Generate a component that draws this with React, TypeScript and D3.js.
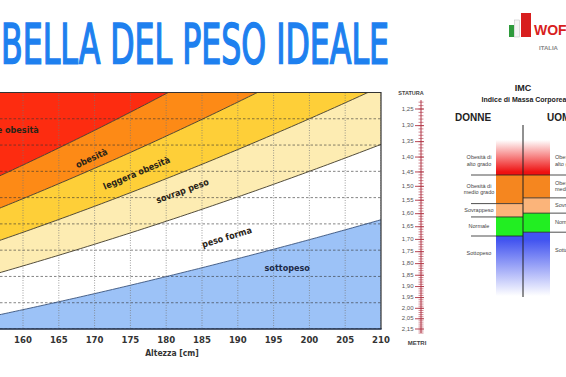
import React, { useLayoutEffect, useRef, useState } from 'react';
import * as d3 from 'd3';

// altezza (cm) e peso (kg) della griglia
const heightTicks = [160, 165, 170, 175, 180, 185, 190, 195, 200, 205, 210];
const weightGrid = [40, 50, 60, 70, 80, 90, 100, 110, 120, 130];

// fasce di IMC del grafico principale
const bandNames = ['sottopeso', 'peso forma', 'sovrap peso', 'leggera obesità', 'obesità', 'grave obesità'];
const bandLimits = [0, 18.5, 25, 30, 35, 40, 80];
// punto (altezza, peso) dove sta l'etichetta di ogni fascia
const labelHeights = [196.9, 188.5, 182.3, 175.9, 169.6, 162.2];
const labelWeights = [62.9, 74.7, 92.3, 99.1, 104.8, 115.5];

// righello della statura
const statureValues = [1.25, 1.3, 1.35, 1.4, 1.45, 1.5, 1.55, 1.6, 1.65, 1.7, 1.75, 1.8, 1.85, 1.9, 1.95, 2.0, 2.05, 2.1];
const statureLabels = ['1,25', '1,30', '1,35', '1,40', '1,45', '1,50', '1,55', '1,60', '1,65', '1,70', '1,75', '1,80', '1,85', '1,90', '1,95', '2,00', '2,05', '2,15'];

// IMC donne / uomini: sottopeso|normale|sovrappeso|obesità medio|obesità alto
const womenLimits = [19, 24, 27.5, 35];
const menLimits = [20, 25, 29, 35];

const bandColors = ['#9cc2f7', '#ffffff', '#fdecb2', '#fecf38', '#fd8a16', '#fd2c10'];
const condensed = "'DejaVu Sans Condensed', 'DejaVu Sans', sans-serif";

export default function App() {
  const titleRef = useRef<SVGTextElement>(null);
  const [titleScale, setTitleScale] = useState(0.56);

  useLayoutEffect(() => {
    if (titleRef.current) {
      const w = titleRef.current.getComputedTextLength();
      if (w > 0) setTitleScale(388 / w);
    }
  }, []);

  const x = d3.scaleLinear().domain([160, 210]).range([23, 381]);
  const y = d3.scaleLinear().domain([40, 130]).range([329, 92.5]);
  const kx = (x(210) - x(160)) / 50;
  const ky = (y(40) - y(130)) / 90;
  const hs = d3.range(150, 212.01, 0.5);
  const weightAt = (bmi: number, h: number) => bmi * (h / 100) ** 2;

  const bandArea = (lo: number, hi: number) =>
    d3.area<number>()
      .x(h => x(h))
      .y0(h => y(weightAt(lo, h)))
      .y1(h => y(weightAt(hi, h)))(hs) || '';
  const bmiLine = (bmi: number) =>
    d3.line<number>().x(h => x(h)).y(h => y(weightAt(bmi, h)))(hs) || '';

  const stature = d3.scaleLog().domain([1.25, 2.1]).range([109, 329]);
  const minor = d3.range(1.23, 2.125, 0.01);

  const imc = d3.scaleLinear().domain([19, 35]).range([236, 175]);

  const column = (limits: number[], x0: number, w: number, key: string) => (
    <g key={key}>
      <rect x={x0} y={138} width={w} height={imc(35) - 138} fill="url(#redGrad)" />
      <rect x={x0} y={imc(35)} width={w} height={imc(limits[2]) - imc(35)} fill="#f5861f" />
      <rect x={x0} y={imc(limits[2])} width={w} height={imc(limits[1]) - imc(limits[2])} fill="#fbb47a" />
      <rect x={x0} y={imc(limits[1])} width={w} height={imc(limits[0]) - imc(limits[1])} fill="#22ee22" />
      <rect x={x0} y={imc(limits[0])} width={w} height={297 - imc(limits[0])} fill="url(#blueGrad)" />
    </g>
  );

  const panelLabels = (limits: number[], lx: number, anchor: string, key: string) => {
    const top = imc(35);
    const rows: [string[], number][] = [
      [['Obesità di', 'alto grado'], top - 17],
      [['Obesità di', 'medio grado'], (top + imc(limits[2])) / 2 - 3],
      [['Sovrappeso'], (imc(limits[2]) + imc(limits[1])) / 2],
      [['Normale'], (imc(limits[1]) + imc(limits[0])) / 2],
      [['Sottopeso'], imc(limits[0]) + 18],
    ];
    return (
      <g key={key} fontSize={5.5} fill="#444" textAnchor={anchor}>
        {rows.map(([lines, cy], i) => lines.map((t, j) => (
          <text key={i + '-' + j} x={lx} y={cy + j * 6.5} dominantBaseline="middle">{t}</text>
        )))}
      </g>
    );
  };

  return (
    <svg width={566} height={377} style={{ position: 'absolute', left: 0, top: 0, background: '#fff' }}
      fontFamily="'DejaVu Sans', sans-serif">
      <defs>
        <clipPath id="plotClip"><rect x={0} y={92.5} width={381} height={236.5} /></clipPath>
        <linearGradient id="redGrad" gradientUnits="userSpaceOnUse" x1={0} x2={0} y1={140} y2={172}>
          <stop offset="0" stopColor="#ffffff" />
          <stop offset="1" stopColor="#ee1111" />
        </linearGradient>
        <linearGradient id="blueGrad" gradientUnits="userSpaceOnUse" x1={0} x2={0} y1={240} y2={296}>
          <stop offset="0" stopColor="#4254f0" />
          <stop offset="1" stopColor="#ffffff" />
        </linearGradient>
      </defs>

      {/* titolo */}
      <text ref={titleRef} x={0} y={0} fontSize={56} fill="#1e80ef" stroke="#1e80ef" strokeWidth={1.6}
        transform={`translate(1,63) scale(${titleScale},1)`} fontFamily={condensed} fontStretch="condensed">
        BELLA DEL PESO IDEALE
      </text>

      {/* grafico principale */}
      <g clipPath="url(#plotClip)">
        {bandNames.map((n, i) => (
          <path key={n} d={bandArea(bandLimits[i], bandLimits[i + 1])} fill={bandColors[i]} />
        ))}
        {weightGrid.map(w => (
          <line key={'h' + w} x1={0} x2={381} y1={y(w)} y2={y(w)} stroke="#333" strokeOpacity={0.75}
            strokeWidth={0.8} strokeDasharray="2.5,2" />
        ))}
        {[155, ...heightTicks].map(h => (
          <line key={'v' + h} x1={x(h)} x2={x(h)} y1={92.5} y2={329} stroke="#777" strokeWidth={0.7}
            strokeDasharray="1,1.5" />
        ))}
        {bandLimits.slice(1, 6).map((b, i) => (
          <path key={'l' + b} d={bmiLine(b)} fill="none" stroke={i === 0 ? '#34507c' : '#403a2a'} strokeWidth={0.9} />
        ))}
        {bandNames.map((n, i) => {
          const cx = x(labelHeights[i]);
          const cy = y(labelWeights[i]);
          const mid = (bandLimits[i] + bandLimits[i + 1]) / 2;
          const rotated = i > 0 && i < 5;
          const ang = rotated
            ? -Math.atan((2 * mid * labelHeights[i] / 10000) * ky / kx) * 180 / Math.PI
            : 0;
          return (
            <text key={'t' + n} x={cx} y={cy} fontSize={9} fontWeight="bold" fontFamily={condensed}
              fill={i === 0 ? '#1c2a48' : '#2a2418'} textAnchor={i === 5 ? 'end' : 'middle'}
              dominantBaseline="middle" transform={`rotate(${ang},${cx},${cy})`}>{n}</text>
          );
        })}
      </g>
      <line x1={0} x2={381} y1={92.5} y2={92.5} stroke="#333" strokeWidth={1} />
      <line x1={381} x2={381} y1={92} y2={329} stroke="#333" strokeWidth={1.2} />
      <line x1={0} x2={381.6} y1={329} y2={329} stroke="#1c2a44" strokeWidth={1.6} />
      {heightTicks.map(h => (
        <text key={'x' + h} x={x(h)} y={343} fontSize={9.5} fontWeight="bold" fill="#333" textAnchor="middle"
          fontFamily={condensed}>{h}</text>
      ))}
      <text x={172} y={356} fontSize={8.5} fontWeight="bold" fill="#333" textAnchor="middle"
        fontFamily={condensed}>Altezza [cm]</text>

      {/* righello statura */}
      <g fontFamily="'Liberation Sans', Arial, sans-serif">
        <text x={411} y={95} fontSize={5.5} fontWeight="bold" fill="#444" textAnchor="middle">STATURA</text>
        <line x1={421} x2={421} y1={stature(1.224)} y2={stature(2.12)} stroke="#b03444" strokeWidth={1} />
        {minor.map(v => (
          <line key={'m' + v.toFixed(2)} x1={418.5} x2={423.5} y1={stature(v)} y2={stature(v)} stroke="#b03444" strokeWidth={0.6} />
        ))}
        {statureValues.map((v, i) => (
          <g key={'s' + i}>
            <line x1={415} x2={424} y1={stature(v)} y2={stature(v)} stroke="#b03444" strokeWidth={0.9} />
            <text x={413.5} y={stature(v)} fontSize={6} fill="#555" textAnchor="end" dominantBaseline="middle">{statureLabels[i]}</text>
          </g>
        ))}
        <text x={417} y={345} fontSize={6} fontWeight="bold" fill="#444" textAnchor="middle">METRI</text>
      </g>

      {/* pannello IMC */}
      <g fontFamily="'Liberation Sans', Arial, sans-serif">
        <text x={523} y={91} fontSize={9} fontWeight="bold" fill="#222" textAnchor="middle">IMC</text>
        <text x={524} y={101.5} fontSize={7} fontWeight="bold" fill="#222" textAnchor="middle">Indice di Massa Corporea</text>
        <text x={473} y={121} fontSize={10} fontWeight="bold" fill="#222" textAnchor="middle">DONNE</text>
        <text x={547} y={121} fontSize={10} fontWeight="bold" fill="#222">UOMINI</text>
        {column(womenLimits, 496, 27, 'w')}
        {column(menLimits, 523, 27, 'm')}
        <line x1={523} x2={523} y1={125} y2={297} stroke="#222" strokeWidth={1} />
        {womenLimits.map(b => (
          <line key={'wl' + b} x1={471} x2={523} y1={imc(b)} y2={imc(b)} stroke="#222" strokeWidth={0.8} />
        ))}
        {menLimits.map(b => (
          <line key={'ml' + b} x1={523} x2={566} y1={imc(b)} y2={imc(b)} stroke="#222" strokeWidth={0.8} />
        ))}
        {panelLabels(womenLimits, 479, 'middle', 'wt')}
        {panelLabels(menLimits, 555, 'start', 'mt')}
      </g>

      {/* logo */}
      <g fontFamily="'Liberation Sans', Arial, sans-serif">
        <rect x={509} y={25} width={5} height={12} fill="#2e9a3c" />
        <rect x={514.5} y={20} width={5} height={17} fill="#f4f4f4" stroke="#bbb" strokeWidth={0.5} />
        <rect x={521} y={13} width={10} height={24} fill="#d81e1e" />
        <text x={534} y={35} fontSize={14} fontWeight="bold" fill="#d81e1e">WOF</text>
        <text x={539} y={50} fontSize={6} fontWeight="bold" fill="#888">ITALIA</text>
      </g>
    </svg>
  );
}
